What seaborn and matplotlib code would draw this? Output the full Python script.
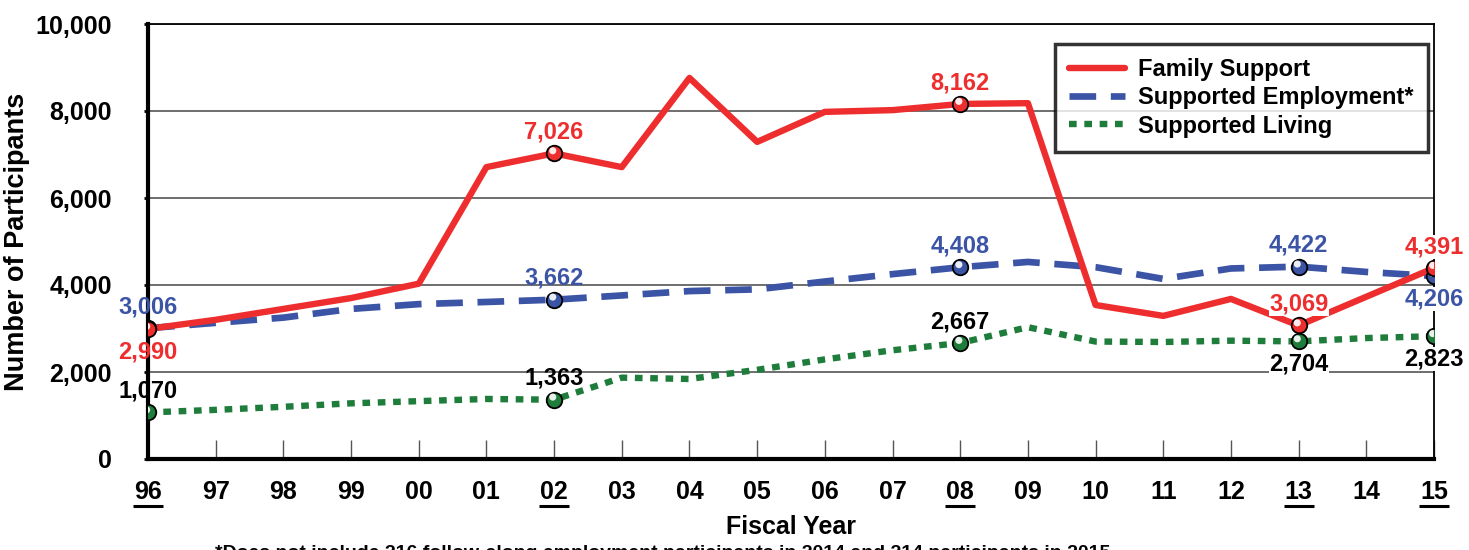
import matplotlib
matplotlib.use("Agg")
import matplotlib.pyplot as plt
import seaborn as sns
import pandas as pd
import numpy as np

years = ["96", "97", "98", "99", "00", "01", "02", "03", "04", "05",
         "06", "07", "08", "09", "10", "11", "12", "13", "14", "15"]
family_support = [2990, 3200, 3450, 3700, 4030, 6710, 7026, 6710, 8760, 7290,
                  7980, 8020, 8162, 8180, 3540, 3290, 3680, 3069, 3730, 4391]
supported_employment = [3006, 3130, 3250, 3450, 3560, 3610, 3662, 3760, 3860, 3900,
                        4080, 4250, 4408, 4530, 4410, 4140, 4380, 4422, 4300, 4206]
supported_living = [1070, 1130, 1200, 1280, 1330, 1380, 1363, 1870, 1840, 2050,
                    2290, 2500, 2667, 3030, 2700, 2690, 2720, 2704, 2780, 2823]
highlight_years = ["96", "02", "08", "13", "15"]
yticks = [0, 2000, 4000, 6000, 8000, 10000]

RED = "#ee2e2e"
BLUE = "#3b54a5"
GREEN = "#1f7d3b"

sns.set_theme(style="white")
plt.rcParams['font.family'] = ['Liberation Sans', 'DejaVu Sans']
plt.rcParams['text.color'] = 'black'
plt.rcParams['axes.labelcolor'] = 'black'
plt.rcParams['xtick.labelcolor'] = 'black'
plt.rcParams['ytick.labelcolor'] = 'black'

fig = plt.figure(figsize=(14.69, 5.5), dpi=100)
ax = fig.add_axes([148/1469, 1-459/550, (1434-148)/1469, (459-24)/550])

xs = np.arange(len(years))
df = pd.DataFrame({"x": xs, "Family Support": family_support,
                   "Supported Employment*": supported_employment,
                   "Supported Living": supported_living})

sns.lineplot(data=df, x="x", y="Supported Living", ax=ax, color=GREEN, lw=4.6,
             linestyle=(0, (1.2, 1.2)), label="Supported Living", zorder=3)
sns.lineplot(data=df, x="x", y="Supported Employment*", ax=ax, color=BLUE, lw=4.8,
             linestyle=(0, (4.0, 2.2)), label="Supported Employment*", zorder=4)
sns.lineplot(data=df, x="x", y="Family Support", ax=ax, color=RED, lw=4.6,
             label="Family Support", zorder=5)

hidx = [years.index(y) for y in highlight_years]
for vals, col, z in [(supported_living, GREEN, 6), (supported_employment, BLUE, 7),
                     (family_support, RED, 8)]:
    hx = [xs[i] for i in hidx]
    hy = [vals[i] for i in hidx]
    ax.scatter(hx, hy, s=125, color=col, edgecolor="black", linewidth=1.3, zorder=z)
    ax.scatter(np.array(hx) - 0.02, np.array(hy) + 60, s=26, color="white",
               edgecolor="none", alpha=0.9, zorder=z)

def lab(i, vals, col, pos, bg=False):
    off = 7 if pos == "above" else -8
    va = "bottom" if pos == "above" else "top"
    kw = {}
    if bg:
        kw["bbox"] = dict(facecolor="white", edgecolor="none", pad=0.3)
    ax.annotate(f"{vals[i]:,}", (xs[i], vals[i]), xytext=(0, off),
                textcoords="offset points", ha="center", va=va, color=col,
                fontsize=17, fontweight="bold", zorder=10, annotation_clip=False, **kw)

# Family support labels
lab(0, family_support, RED, "below")
lab(6, family_support, RED, "above")
lab(12, family_support, RED, "above")
lab(17, family_support, RED, "above", bg=True)
lab(19, family_support, RED, "above", bg=True)
# Supported employment
lab(0, supported_employment, BLUE, "above")
lab(6, supported_employment, BLUE, "above")
lab(12, supported_employment, BLUE, "above")
lab(17, supported_employment, BLUE, "above")
lab(19, supported_employment, BLUE, "below", bg=True)
# Supported living
lab(0, supported_living, "black", "above")
lab(6, supported_living, "black", "above")
lab(12, supported_living, "black", "above")
lab(17, supported_living, "black", "below", bg=True)
lab(19, supported_living, "black", "below", bg=True)

ax.set_xlim(0, len(years) - 1)
ax.set_ylim(0, 10000)
ax.set_yticks(yticks)
ax.set_yticklabels([f"{v:,}" for v in yticks], fontsize=18, fontweight="bold", color="black")
ax.set_xticks(xs)
ax.set_xticklabels(years, fontsize=18, fontweight="bold", color="black")
ax.tick_params(axis="x", direction="in", length=14, width=1, color="#555555", pad=15,
               bottom=True)
ax.tick_params(axis="y", direction="out", length=3, width=2, color="black", pad=23, left=True)

# underline highlighted years
for hy_ in highlight_years:
    i = years.index(hy_)
    ax.plot([xs[i] - 0.22, xs[i] + 0.22], [-0.107, -0.107], color="black", lw=2.2,
            transform=ax.get_xaxis_transform(), clip_on=False, solid_capstyle="butt")

ax.yaxis.grid(True, color="#555555", lw=1.2)
ax.xaxis.grid(False)
ax.set_axisbelow(True)
for s in ["left", "bottom"]:
    ax.spines[s].set_linewidth(3)
    ax.spines[s].set_color("black")
for s in ["top", "right"]:
    ax.spines[s].set_linewidth(1.3)
    ax.spines[s].set_color("black")
    ax.spines[s].set_zorder(1)

ax.set_xlabel("Fiscal Year", fontsize=18, fontweight="bold", va="center", color="black")
ax.xaxis.set_label_coords(0.5, -(527-459)/435)
ax.set_ylabel("Number of Participants", fontsize=19.5, fontweight="bold", va="center",
              color="black")
ax.yaxis.set_label_coords((17-148)/1286, 0.5)

handles, labels = ax.get_legend_handles_labels()
order = [labels.index("Family Support"), labels.index("Supported Employment*"),
         labels.index("Supported Living")]
leg = ax.legend([handles[i] for i in order], [labels[i] for i in order],
                loc="upper right", bbox_to_anchor=(1428/1469, 1-44/550),
                bbox_transform=fig.transFigure, frameon=True, fancybox=False,
                prop={"weight": "bold", "size": 17}, handlelength=2.4,
                borderpad=0.6, labelspacing=0.22, handletextpad=0.55, borderaxespad=0)
leg.get_frame().set_edgecolor("black")
leg.get_frame().set_linewidth(2.5)
leg.set_zorder(20)
for t in leg.get_texts():
    t.set_color("black")

fig.text(215/1469, 1-545/550,
         "*Does not include 216 follow-along employment participants in 2014 and 214 participants in 2015",
         fontsize=14, fontweight="bold", va="top", ha="left", color="black")

fig.savefig("out.png", dpi=100)
